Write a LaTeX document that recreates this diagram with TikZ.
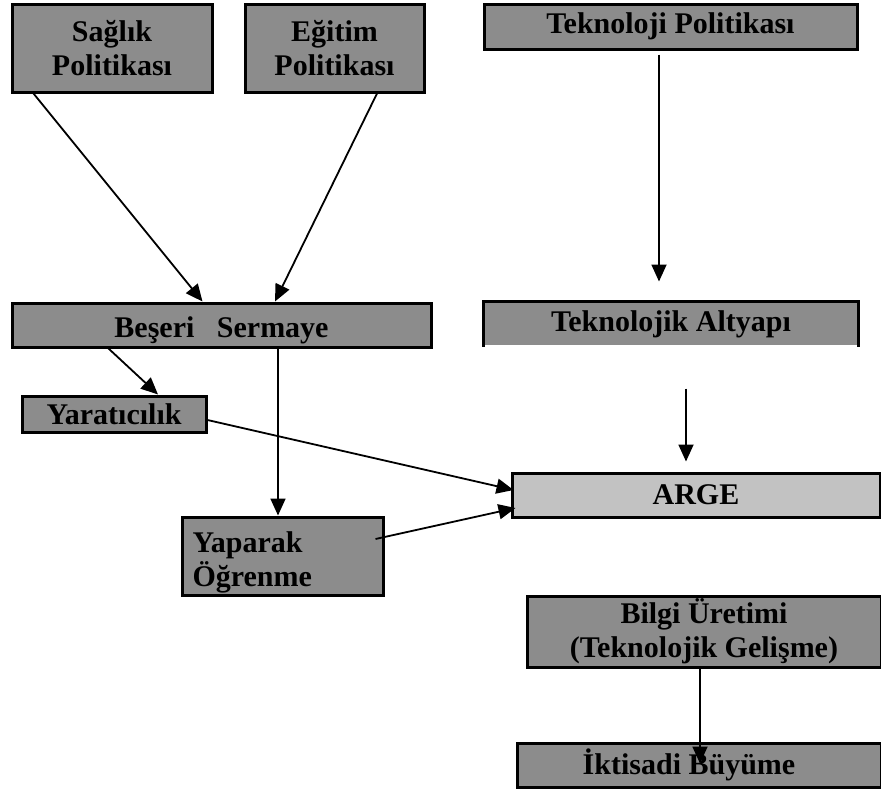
\documentclass[tikz,border=0pt]{standalone}
\usepackage{fontspec}
\setmainfont{Liberation Serif}
\usepackage{tikz}
\usetikzlibrary{arrows.meta,calc}
\definecolor{boxgray}{gray}{0.55}
\definecolor{lightgray}{gray}{0.76}

\begin{document}
\begin{tikzpicture}[x=1pt,y=-1pt,
  box/.style={draw,line width=3pt,fill=boxgray,inner sep=0pt,
    font=\fontsize{30}{34}\selectfont\bfseries,align=center},
  link/.style={line width=1.8pt,-{Triangle[length=17pt,width=15pt]}}]
\useasboundingbox (0,0) rectangle (881,790);
\node[box,minimum width=200,minimum height=88] (saglik) at (112,48){Sağlık\\Politikası};
\node[box,minimum width=179,minimum height=88] (egitim) at (334.5,48){Eğitim\\Politikası};
\node[box,minimum width=373,minimum height=45] (teknoloji) at (670.5,26.5){Teknoloji Politikası};
\node[box,minimum width=419,minimum height=44] (beseri) at (221.5,325){\rule{0pt}{32pt}Beşeri\ \ \ Sermaye};
\node[box,draw=none,minimum width=372,minimum height=42] (altyapi) at (671,324){Teknolojik Altyapı};
\node[box,minimum width=184,minimum height=36] (yaratici) at (114,414){Yaratıcılık};
\node[box,fill=lightgray,minimum width=368,minimum height=44] (arge) at (696,495){ARGE};
\node[box,minimum width=201,minimum height=78,text width=180,align=left] (yaparak) at (282.5,556){\rule{0pt}{34pt}Yaparak\\Öğrenme};
\node[box,minimum width=354,minimum height=71] (bilgi) at (704,631.5){Bilgi Üretimi\\(Teknolojik Gelişme)};
\node[box,minimum width=364,minimum height=44] (iktisadi) at (699,765){İktisadi Büyüme\hspace*{20pt}};
% altyapi box is open at the bottom
\draw[line width=3pt] (altyapi.south west) -- (altyapi.north west) -- (altyapi.north east) -- (altyapi.south east);
\draw[link] ($(saglik.south west)+(23,0)$) -- ($(beseri.north)+(-19,0)$);
\draw[link] ($(egitim.south)+(42.5,0)$) -- ($(beseri.north)+(53.5,0)$);
\draw[link] ($(teknoloji.south)+(-11.5,4)$) -- ($(altyapi.north)+(-12,-20)$);
\draw[link] ($(altyapi.south)+(15,42)$) -- ($(arge.north)+(-10,-10)$);
\draw[link] ($(beseri.south west)+(98,0)$) -- ($(yaratici.north)+(44,0)$);
\draw[link] ($(beseri.south)+(56.5,0)$) -- ($(yaparak.north)+(-4.5,0)$);
\draw[link] ($(yaratici.east)+(0,6)$) -- ($(arge.west)+(3,-5)$);
\draw[link] ($(yaparak.east)+(-9,-17)$) -- ($(arge.west)+(5,13)$);
\draw[link] ($(bilgi.south)+(-4,0)$) -- ($(iktisadi.north)+(1,22)$);
\end{tikzpicture}
\end{document}
